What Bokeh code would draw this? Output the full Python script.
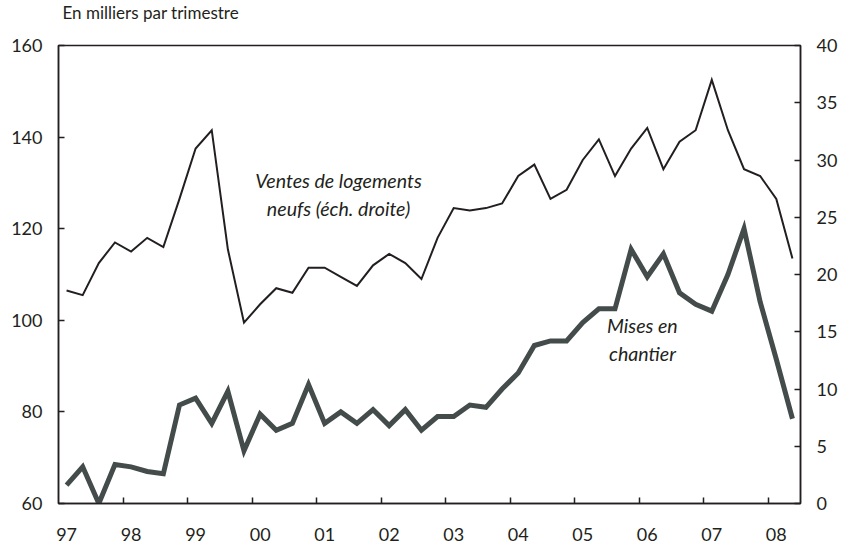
from bokeh.plotting import figure
from bokeh.models import Range1d, LinearAxis, FixedTicker, Label, Title
from bokeh.embed import file_html
from bokeh.resources import INLINE

# ---- data (quarterly, 1997Q1 - 2008Q2) ----
years = list(range(1997, 2009))
year_labels = ["97", "98", "99", "00", "01", "02", "03", "04", "05", "06", "07", "08"]
quarters = [(y, q) for y in years for q in (1, 2, 3, 4)][:46]

# Ventes de logements neufs (right scale, thousands per quarter)
ventes = [18.6, 18.2, 21.0, 22.8, 22.0, 23.2, 22.4, 26.6,
          31.0, 32.6, 22.2, 15.8, 17.4, 18.8, 18.4, 20.6,
          20.6, 19.8, 19.0, 20.8, 21.8, 21.0, 19.6, 23.2,
          25.8, 25.6, 25.8, 26.2, 28.6, 29.6, 26.6, 27.4,
          30.0, 31.8, 28.6, 31.0, 32.8, 29.2, 31.6, 32.6,
          37.0, 32.6, 29.2, 28.6, 26.6, 21.4]

# Mises en chantier (left scale, thousands per quarter)
mises = [64.0, 68.0, 60.0, 68.5, 68.0, 67.0, 66.5, 81.5,
         83.0, 77.5, 84.5, 71.5, 79.5, 76.0, 77.5, 86.0,
         77.5, 80.0, 77.5, 80.5, 77.0, 80.5, 76.0, 79.0,
         79.0, 81.5, 81.0, 85.0, 88.5, 94.5, 95.5, 95.5,
         99.5, 102.5, 102.5, 115.5, 109.5, 114.5, 106.0, 103.5,
         102.0, 110.0, 120.0, 104.0, 91.5, 78.5]

left_ticks = [60, 80, 100, 120, 140, 160]
right_ticks = [0, 5, 10, 15, 20, 25, 30, 35, 40]

x = [y + (q - 0.5) / 4 for (y, q) in quarters]

INK = "#231f20"
GREY = "#434b4b"
FONT = "Lato"

p = figure(width=840, height=546, output_backend="svg", toolbar_location=None,
           x_range=Range1d(1997, 2008.5), y_range=Range1d(60, 160),
           x_axis_location=None, y_axis_location=None,
           min_border_left=58, min_border_right=38, min_border_top=45,
           min_border_bottom=43)
p.extra_y_ranges = {"right": Range1d(0, 40)}
p.grid.visible = False
p.background_fill_color = "white"
p.border_fill_color = "white"
p.outline_line_color = INK
p.outline_line_width = 1.5

p.title.text = "En milliers par trimestre"
p.title.align = "left"
p.title.vertical_align = "top"
p.title.text_font = FONT
p.title.text_font_style = "normal"
p.title.text_font_size = "17px"
p.title.text_color = INK
p.title.offset = 4
p.title.standoff = 2

# invisible spacer between the unit note and the frame
p.add_layout(Title(text=" ", text_font_size="1px", standoff=17), "above")

def style_axis(ax):
    ax.axis_line_color = INK
    ax.axis_line_width = 1.5
    ax.major_tick_line_color = INK
    ax.major_tick_line_width = 1.5
    ax.major_tick_in = 6
    ax.major_tick_out = 0
    ax.minor_tick_line_color = None
    ax.major_label_text_font = FONT
    ax.major_label_text_font_size = "18px"
    ax.major_label_text_color = INK
    ax.major_label_standoff = 16

left = LinearAxis(ticker=FixedTicker(ticks=left_ticks))
style_axis(left)
p.add_layout(left, "left")

right = LinearAxis(y_range_name="right", ticker=FixedTicker(ticks=right_ticks))
style_axis(right)
p.add_layout(right, "right")

bottom = LinearAxis(ticker=FixedTicker(ticks=[y + 0.125 for y in years],
                                       minor_ticks=years[1:]))
style_axis(bottom)
bottom.major_tick_line_color = None
bottom.minor_tick_line_color = INK
bottom.minor_tick_line_width = 1.5
bottom.minor_tick_in = 6
bottom.minor_tick_out = 0
bottom.major_label_standoff = 24
bottom.major_label_overrides = {y + 0.125: lab for y, lab in zip(years, year_labels)}
p.add_layout(bottom, "below")

p.line(x, ventes, y_range_name="right", line_color=INK, line_width=2,
       line_join="miter")
p.line(x, mises, line_color=GREY, line_width=5, line_join="miter")

for txt, lx, ly in [("Ventes de logements", 2001.34, 130.5),
                    ("neufs (éch. droite)", 2001.34, 124.4),
                    ("Mises en", 2006.05, 98.9),
                    ("chantier", 2006.05, 92.75)]:
    p.add_layout(Label(x=lx, y=ly, text=txt, text_align="center",
                       text_baseline="middle", text_font=FONT,
                       text_font_style="italic", text_font_size="19.6px",
                       text_color=INK))

open("out.html", "w").write(file_html(p, INLINE))
